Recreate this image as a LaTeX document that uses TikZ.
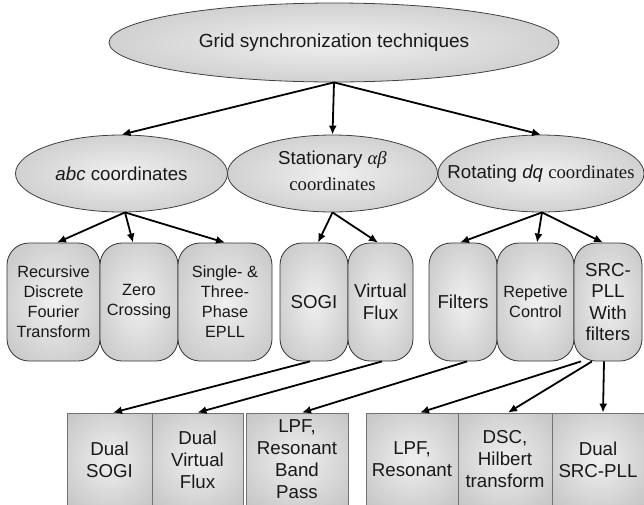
\documentclass[tikz,border=0pt]{standalone}
\usepackage{fontspec}
\setmainfont{Liberation Sans}
\newfontfamily\tnr{Liberation Serif}
\usetikzlibrary{shapes.geometric,arrows.meta,calc}
\pgfdeclareradialshading{softrad}{\pgfpoint{0bp}{0bp}}{color(0bp)=(black!6); color(50bp)=(black!30); color(72bp)=(black!37)}
\begin{document}
\begin{tikzpicture}[x=1pt,y=-1pt,
  ell/.style={ellipse, draw=black!75, line width=0.8pt, shading=softrad, inner sep=0pt, text=black!90},
  tab/.style={rectangle, rounded corners=22pt, draw=black!80, line width=0.8pt, shading=softrad, align=center, inner sep=0pt, minimum height=118pt, text=black!90},
  leaf/.style={rectangle, draw=black!55, line width=0.8pt, shading=softrad, align=center, inner sep=0pt, minimum height=93pt, text=black!90},
  arr/.style={-{Latex[length=9pt,width=8pt]}, line width=1.8pt},
  fA/.style={font=\fontsize{16.3}{20}\selectfont},
  fB/.style={font=\fontsize{18.7}{22}\selectfont}]
\useasboundingbox (0,0) rectangle (644,504);
\clip (0,0) rectangle (644,504);
% top
\node[ell, minimum width=450pt, minimum height=79pt, font=\fontsize{19}{22}\selectfont] (grid) at (334,42.5) {\makebox[0pt]{Grid synchronization techniques}};
% second row
\node[ell, minimum width=212pt, minimum height=77pt, font=\fontsize{18.7}{22}\selectfont] (abc) at (121.5,173.5) {\makebox[0pt]{\textit{abc} coordinates}};
\node[ell, minimum width=210pt, minimum height=77pt, font=\fontsize{18.7}{22}\selectfont] (stat) at (332.5,173.5) {\makebox[0pt]{\begin{tabular}{@{}c@{}}Stationary {\tnr\itshape αβ}\\[4pt] {\tnr coordinates}\end{tabular}}};
\node[ell, minimum width=206pt, minimum height=77pt, font=\fontsize{18.7}{22}\selectfont] (rot) at (541,173.5) {\makebox[0pt]{Rotating \textit{dq} {\tnr coordinates}}};
% third row
\node[tab, fA, minimum width=93pt] (rdft) at (53.5,302) {Recursive\\Discrete\\Fourier\\Transform};
\node[tab, fA, minimum width=78pt] (zc) at (139,302) {Zero\\Crossing};
\node[tab, fA, minimum width=94pt] (epll) at (225,302) {Single- \&\\Three-\\Phase\\EPLL};
\node[tab, fB, minimum width=68pt] (sogi) at (314,302) {SOGI};
\node[tab, fB, minimum width=65pt] (vf) at (380.5,302) {Virtual\\Flux};
\node[tab, fB, minimum width=68pt] (filt) at (463,302) {Filters};
\node[tab, fA, minimum width=77pt] (rep) at (535.5,302) {Repetive\\Control};
\node[tab, font=\fontsize{18.7}{21.5}\selectfont, minimum width=68pt] (src) at (608,302) {SRC-\\PLL\\With\\filters};
% fourth row
\node[leaf, fB, minimum width=85pt] (dsogi) at (109.5,459.5) {Dual\\SOGI};
\node[leaf, fB, minimum width=91pt] (dvf) at (197.5,459.5) {Dual\\Virtual\\Flux};
\node[leaf, fB, minimum width=102pt] (lpfr) at (297,459.5) {LPF,\\Resonant\\Band\\Pass};
\node[leaf, fB, minimum width=92pt] (lpfres) at (412,459.5) {LPF,\\Resonant};
\node[leaf, fB, minimum width=94pt] (dsc) at (505,459.5) {DSC,\\Hilbert\\transform};
\node[leaf, fB, minimum width=92pt] (dsrc) at (598,459.5) {Dual\\SRC-PLL};
% arrows top
\draw[arr] (grid.south) -- (abc.north);
\draw[arr] (grid.south) -- (stat.north);
\draw[arr] (grid.south) -- (rot.north);
% arrows second row
\draw[arr] ([xshift=3.5pt]abc.south) -- ([xshift=3.5pt]rdft.north);
\draw[arr] ([xshift=3.5pt]abc.south) -- ([xshift=-6pt]zc.north);
\draw[arr] ([xshift=3.5pt]abc.south) -- (epll.north);
\draw[arr] (stat.south) -- ([xshift=4pt]sogi.north);
\draw[arr] (stat.south) -- ([xshift=-2.5pt]vf.north);
\draw[arr] ([xshift=1pt]rot.south) -- ([xshift=-3pt]filt.north);
\draw[arr] ([xshift=1pt]rot.south) -- ([xshift=1.5pt]rep.north);
\draw[arr] ([xshift=1pt]rot.south) -- ([xshift=-5pt]src.north);
% arrows third row
\draw[arr] ([xshift=-4pt]sogi.south) -- ([xshift=3.5pt]dsogi.north);
\draw[arr] ([xshift=1.5pt]vf.south) -- (dvf.north);
\draw[arr] ([xshift=4pt]filt.south) -- ([xshift=5pt]lpfr.north);
\draw[arr] ([xshift=-27pt]src.south) -- ([xshift=8pt]lpfres.north);
\draw[arr] ([xshift=-16pt]src.south) -- ([xshift=3pt]dsc.north);
\draw[arr] ([xshift=-4pt]src.south) -- ([xshift=5pt]dsrc.north);
\end{tikzpicture}
\end{document}
